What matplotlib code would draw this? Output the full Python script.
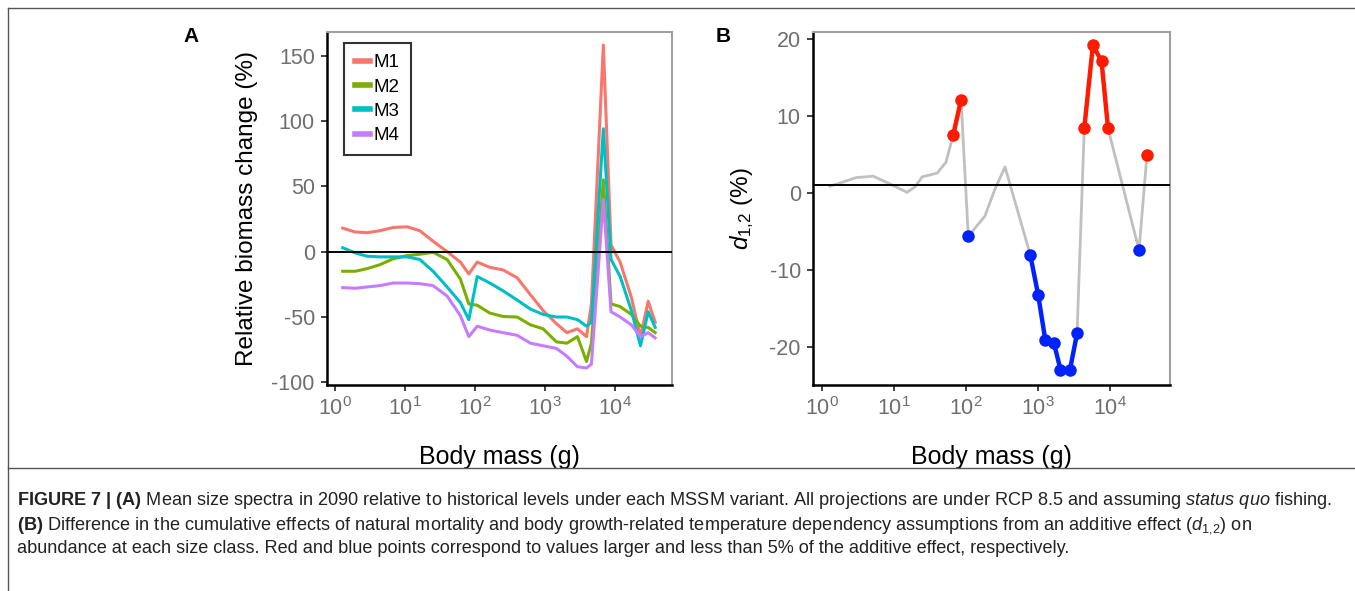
import numpy as np
import matplotlib
matplotlib.use("Agg")
import matplotlib.pyplot as plt
from matplotlib.lines import Line2D

plt.rcParams['font.family'] = ['Liberation Sans', 'DejaVu Sans']
plt.rcParams['mathtext.fontset'] = 'custom'
plt.rcParams['mathtext.rm'] = 'Liberation Sans'
plt.rcParams['mathtext.it'] = 'Liberation Sans:italic'
plt.rcParams['mathtext.bf'] = 'Liberation Sans:bold'
plt.rcParams['axes.unicode_minus'] = False

# ---- data: panel A (log10 body mass, % change per model variant) ----
log_mass_a = [0.11, 0.29, 0.46, 0.64, 0.83, 1.03, 1.21, 1.40, 1.60, 1.79, 1.91,
              2.03, 2.21, 2.40, 2.60, 2.79, 2.97, 3.16, 3.31, 3.46, 3.59, 3.66,
              3.83, 3.94, 4.07, 4.23, 4.36, 4.47, 4.57]
m1 = [18, 15, 14.5, 16, 18.5, 19, 16, 8, 0, -8, -17,
      -8, -12, -14, -20, -33, -45, -55, -62, -59, -65, -40,
      158, 5, -8, -35, -65, -38, -54]
m2 = [-15, -15, -13, -10, -5.5, -3, -2, -0.5, -6, -21, -40,
      -41, -47, -49.6, -50, -56, -59, -69, -70, -65, -84, -70,
      55, -40, -42, -48, -57, -58, -62]
m3 = [3, -1, -3.5, -4, -4, -4, -6, -15, -27, -39, -52,
      -19, -24, -30, -37, -44, -48, -50, -50, -52, -57, -54,
      94, -6, -19, -45, -72, -46, -58]
m4 = [-27.5, -28, -27, -26, -24, -24, -24.5, -26, -34, -49, -65,
      -57, -60, -62, -64, -70, -72, -74, -80, -88, -89, -86,
      40, -46, -50, -56, -65, -62, -66]
series_names = ['M1', 'M2', 'M3', 'M4']
series_colors = ['#F8766D', '#7CAE00', '#00BFC4', '#C77CFF']

# ---- data: panel B (log10 body mass, d12 %, class r/b/'') ----
log_mass_b = [0.11, 0.25, 0.47, 0.71, 0.94, 1.18, 1.29, 1.39, 1.60, 1.72, 1.82,
              1.93, 2.03, 2.26, 2.40, 2.54, 2.89, 3.00, 3.10, 3.22, 3.31, 3.44,
              3.54, 3.64, 3.76, 3.88, 3.97, 4.40, 4.51]
d12 = [0.9, 1.3, 2.0, 2.2, 1.2, 0.1, 0.8, 2.1, 2.6, 4.0, 7.5,
       12.1, -5.6, -3.0, 0.5, 3.4, -8.0, -13.2, -19.1, -19.5, -22.9, -23.0,
       -18.2, 8.4, 19.2, 17.1, 8.4, -7.4, 4.9]
d12_class = ['', '', '', '', '', '', '', '', '', '', 'r',
             'r', 'b', '', '', '', 'b', 'b', 'b', 'b', 'b', 'b',
             'b', 'r', 'r', 'r', 'r', 'b', 'r']
d12_ref = 1.0

xtick_vals = [1, 10, 100, 1000, 10000]
xtick_labels = [r'$10^{0}$', r'$10^{1}$', r'$10^{2}$', r'$10^{3}$', r'$10^{4}$']

caption_lines = [
    r"$\bf{FIGURE\ 7\ |\ (A)}$ Mean size spectra in 2090 relative to historical levels under each MSSM variant. "
    r"All projections are under RCP 8.5 and assuming $\it{status\ quo}$ fishing.",
    r"$\bf{(B)}$ Difference in the cumulative effects of natural mortality and body growth-related temperature "
    r"dependency assumptions from an additive effect ($\it{d}_{1{,}2}$) on",
    "abundance at each size class. Red and blue points correspond to values larger and less than 5% "
    "of the additive effect, respectively.",
]

W, H = 1355, 591
fig = plt.figure(figsize=(W / 100, H / 100), dpi=100)

tick_col = '#6e6e6e'


def style_axes(ax):
    for s in ['left', 'bottom']:
        ax.spines[s].set_color('black')
        ax.spines[s].set_linewidth(1.8)
    for s in ['top', 'right']:
        ax.spines[s].set_color('#a0a0a0')
        ax.spines[s].set_linewidth(1.5)
    ax.set_xscale('log')
    ax.set_xticks(xtick_vals)
    ax.set_xticklabels(xtick_labels)
    ax.xaxis.set_minor_locator(matplotlib.ticker.NullLocator())
    ax.tick_params(axis='both', direction='out', length=4.3, width=1.3, color='#333333',
                   labelcolor=tick_col, labelsize=15.5, pad=4.5)
    ax.set_xlabel('Body mass (g)', fontsize=18, labelpad=18)


# Panel A
axA = fig.add_axes([327 / W, 1 - 385 / H, (672 - 327) / W, (385 - 32) / H])
xa = 10 ** np.array(log_mass_a)
for name, ys, c in zip(series_names, [m1, m2, m3, m4], series_colors):
    axA.plot(xa, ys, color=c, lw=2.2, label=name)
axA.axhline(0, color='black', lw=1.4, zorder=5)
axA.set_xlim(10 ** -0.114, 10 ** 4.81)
axA.set_ylim(-102, 168)
axA.set_yticks([-100, -50, 0, 50, 100, 150])
style_axes(axA)
axA.set_ylabel('Relative biomass change (%)', fontsize=17.5, labelpad=10)
leg = axA.legend(loc='upper left', bbox_to_anchor=(0.049, 0.969), fontsize=13.5, frameon=True,
                 fancybox=False, handlelength=0.8, handletextpad=0.2, labelspacing=0.38,
                 borderpad=0.6, borderaxespad=0)
leg.get_frame().set_edgecolor('black')
leg.get_frame().set_linewidth(1.5)
for h in leg.get_lines():
    h.set_linewidth(4)
fig.text(191 / W, 1 - 36 / H, 'A', fontsize=15, fontweight='bold', va='center', ha='center')

# Panel B
axB = fig.add_axes([813 / W, 1 - 385 / H, (1170 - 813) / W, (385 - 32) / H])
xb = 10 ** np.array(log_mass_b)
axB.plot(xb, d12, color='#c0c0c0', lw=2.0, zorder=2)
axB.axhline(d12_ref, color='black', lw=1.4, zorder=3)
cmap = {'r': '#ff1a00', 'b': '#0022ff'}
i = 0
n = len(d12)
while i < n:
    c = d12_class[i]
    if c == '':
        i += 1
        continue
    j = i
    while j + 1 < n and d12_class[j + 1] == c:
        j += 1
    axB.plot(xb[i:j + 1], d12[i:j + 1], color=cmap[c], lw=3.2, marker='o', ms=9,
             markeredgewidth=0, zorder=4)
    i = j + 1
axB.set_xlim(10 ** -0.125, 10 ** 4.83)
axB.set_ylim(-24.9, 20.9)
axB.set_yticks([-20, -10, 0, 10, 20])
style_axes(axB)
axB.set_ylabel(r'$\it{d}_{1{,}2}$ (%)', fontsize=17.5, labelpad=10)
fig.text(723 / W, 1 - 36 / H, 'B', fontsize=15, fontweight='bold', va='center', ha='center')

# frame lines around the figure area
frame_col = '#555555'
fig.add_artist(Line2D([8 / W, 1], [1 - 8 / H, 1 - 8 / H], transform=fig.transFigure,
                      color=frame_col, lw=1))
fig.add_artist(Line2D([8 / W, 8 / W], [0, 1 - 8 / H], transform=fig.transFigure,
                      color=frame_col, lw=1))
fig.add_artist(Line2D([8 / W, 1], [1 - 468 / H, 1 - 468 / H], transform=fig.transFigure,
                      color=frame_col, lw=1))

# caption
for k, line in enumerate(caption_lines):
    fig.text(17 / W, 1 - (505 + 24 * k) / H, line, fontsize=13.1, color='#222222',
             va='baseline', ha='left')

fig.savefig('out.png', dpi=100)
